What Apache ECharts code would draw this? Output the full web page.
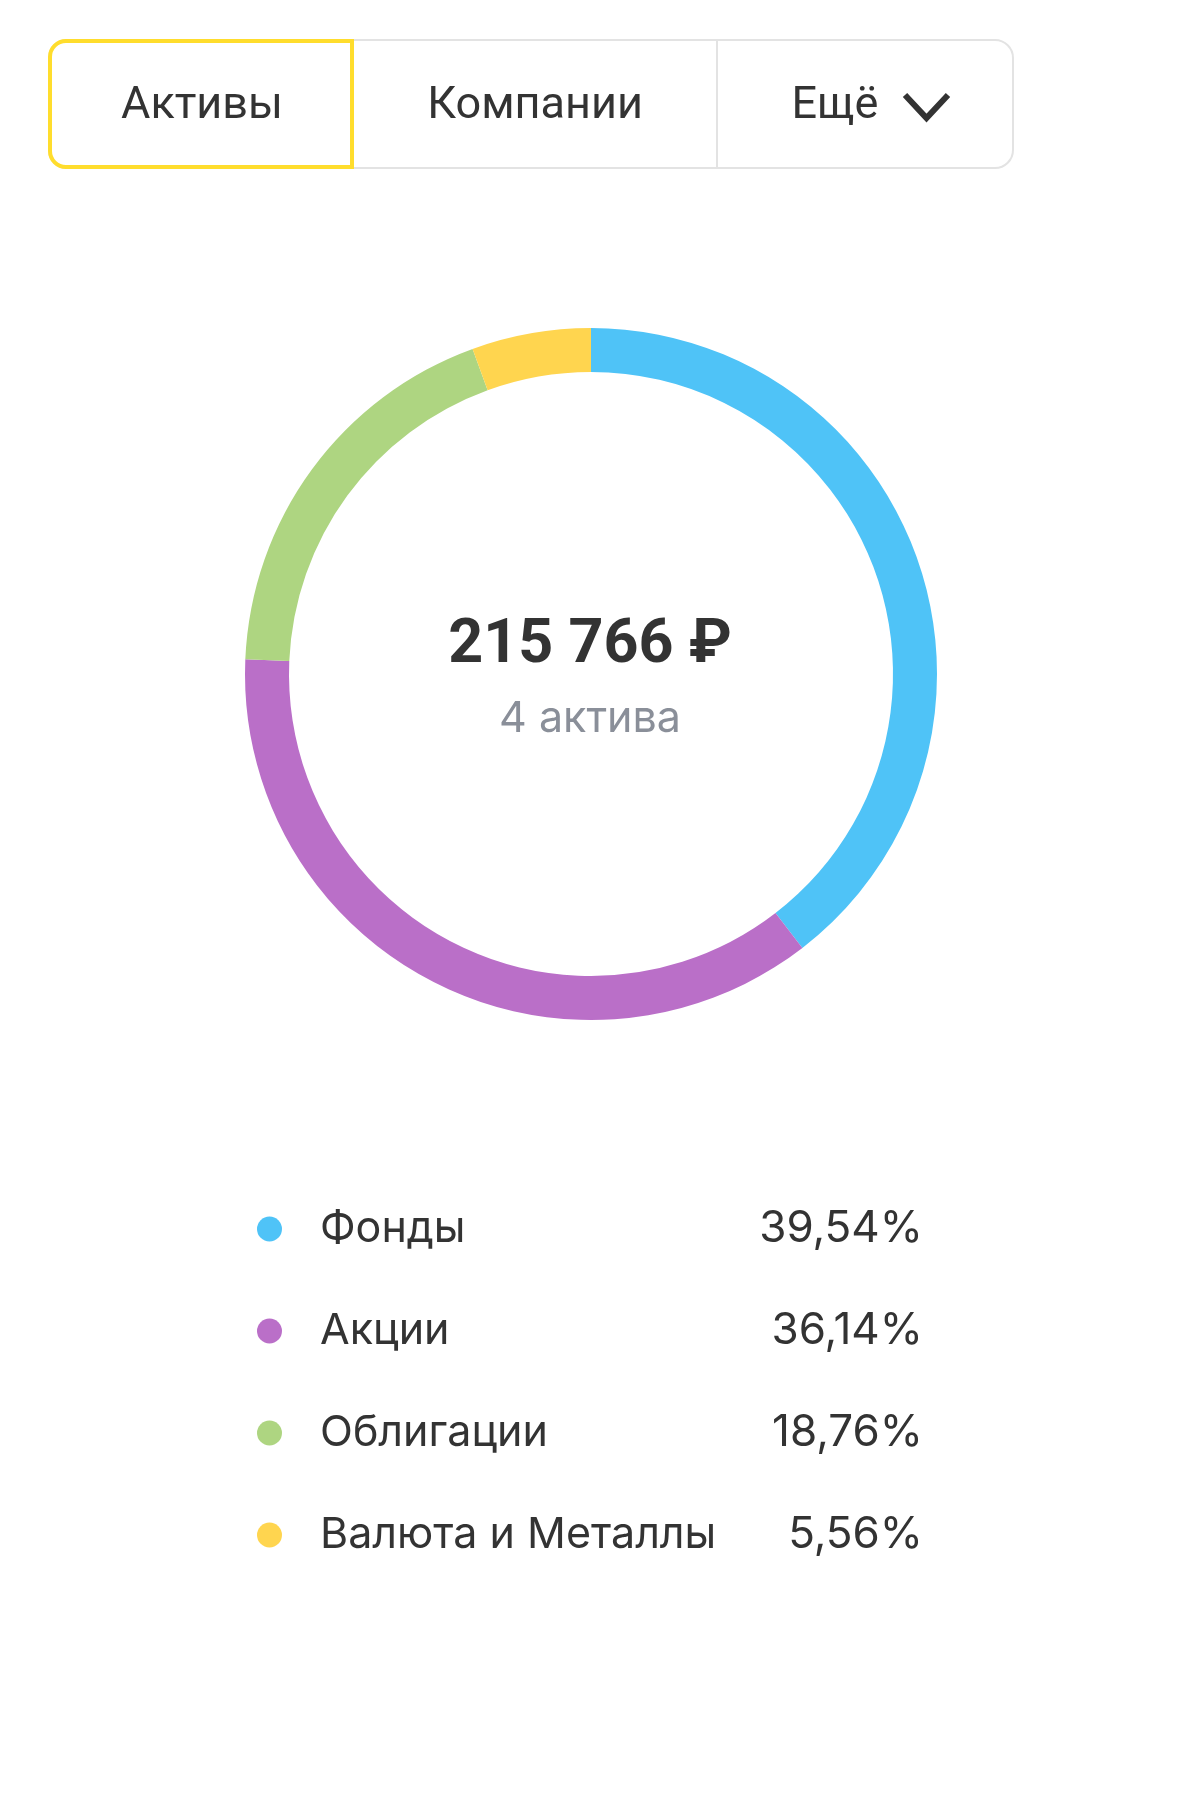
<!DOCTYPE html>
<html>
<head>
<meta charset="utf-8">
<script src="https://cdn.jsdelivr.net/npm/echarts@6/dist/echarts.min.js"></script>
<style>
html,body{margin:0;padding:0;background:#fff;}
#main{width:1179px;height:1810px;}
</style>
</head>
<body>
<div id="main"></div>
<script>
// ---- data ----
const categories = ['Фонды', 'Акции', 'Облигации', 'Валюта и Металлы'];
const shares = [39.54, 36.14, 18.76, 5.56];
const colors = ['#4FC3F7', '#BA6FC8', '#AED581', '#FFD54F'];
const tabs = ['Активы', 'Компании', 'Ещё'];
const totalLabel = '215 766 ₽';
const countLabel = '4 актива';

const FONT = 'Roboto, "Noto Sans", "DejaVu Sans", sans-serif';
const FONT2 = 'Inter, Roboto, "Noto Sans", "DejaVu Sans", sans-serif';
const fmtPct = v => v.toFixed(2).replace('.', ',') + '%';

const chart = echarts.init(document.getElementById('main'), null, {renderer: 'canvas'});

const pieData = categories.map((c, i) => ({name: c, value: shares[i], itemStyle: {color: colors[i]}}));

const graphics = [
  // outer tab container
  {type: 'rect', shape: {x: 49, y: 40, width: 964, height: 128, r: 18},
   style: {fill: '#fff', stroke: '#E3E3E3', lineWidth: 2}, z: 1},
  {type: 'line', shape: {x1: 717, y1: 41, x2: 717, y2: 167}, style: {stroke: '#E3E3E3', lineWidth: 2}, z: 2},
  {type: 'line', shape: {x1: 353, y1: 41, x2: 353, y2: 167}, style: {stroke: '#E3E3E3', lineWidth: 2}, z: 2},
  // active tab
  {type: 'rect', shape: {x: 50, y: 41, width: 302, height: 126, r: [16, 0, 0, 16]},
   style: {fill: '#fff', stroke: '#FFDD2D', lineWidth: 4}, z: 3},
  {type: 'text', x: 202, y: 107, style: {text: tabs[0], font: '400 45px ' + FONT, fill: '#333', align: 'center', verticalAlign: 'middle'}, z: 4},
  {type: 'text', x: 535, y: 107, style: {text: tabs[1], font: '400 45px ' + FONT, fill: '#333', align: 'center', verticalAlign: 'middle'}, z: 4},
  {type: 'text', x: 835, y: 107, style: {text: tabs[2], font: '400 45px ' + FONT, fill: '#333', align: 'center', verticalAlign: 'middle'}, z: 4},
  {type: 'polyline', shape: {points: [[905, 95], [926.5, 118], [948, 95]]},
   style: {stroke: '#333', lineWidth: 6, fill: null}, z: 4},
  // centre labels
  {type: 'text', x: 590, y: 647, style: {text: totalLabel, font: '700 61px ' + FONT, fill: '#333', align: 'center', verticalAlign: 'middle'}, z: 5},
  {type: 'text', x: 590, y: 719, style: {text: countLabel, font: '400 43px ' + FONT2, fill: '#8A8F99', align: 'center', verticalAlign: 'middle'}, z: 5}
];

chart.setOption({
  animation: false,
  backgroundColor: '#fff',
  legend: {
    orient: 'vertical',
    left: 252,
    top: 1202,
    icon: 'circle',
    itemWidth: 25,
    itemHeight: 25,
    itemGap: 58,
    selectedMode: false,
    data: categories,
    formatter: name => {
      const i = categories.indexOf(name);
      return '{s|}{n|' + name + '}{p|' + fmtPct(shares[i]) + '}';
    },
    textStyle: {
      rich: {
        s: {width: 33},
        n: {width: 400, fontSize: 43, fontFamily: FONT2, color: '#333'},
        p: {width: 203, align: 'right', fontSize: 44, fontFamily: FONT2, color: '#333'}
      }
    }
  },
  series: [{
    type: 'pie',
    center: [591, 674],
    radius: [302, 346],
    startAngle: 90,
    clockwise: true,
    silent: true,
    label: {show: false},
    labelLine: {show: false},
    itemStyle: {borderWidth: 0},
    data: pieData
  }],
  graphic: graphics
});
</script>
</body>
</html>
